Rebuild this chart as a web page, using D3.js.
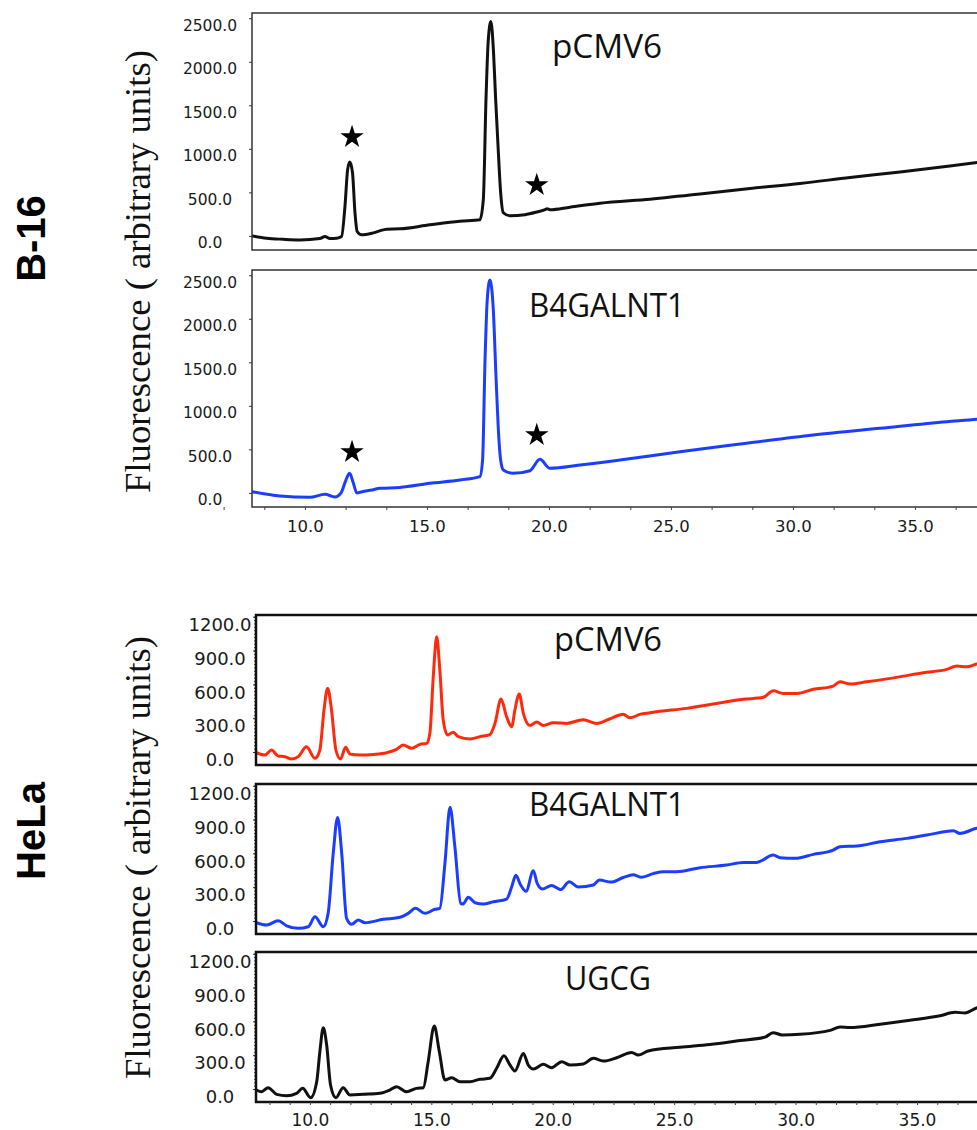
<!DOCTYPE html>
<html lang="en">
<head>
<meta charset="UTF-8">
<title>HPLC glycolipid profiles</title>
<script src="https://d3js.org/d3.v7.min.js"></script>
<style>
  body { margin: 0; background: #fff; }
  svg { display: block; background: #fff; }
</style>
</head>
<body>
<svg width="977" height="1130"></svg>
<script>
// [retention time (min), fluorescence]
const b16Control = [[7.83,0],[8.43,-27],[9.11,-39],[9.80,-46],[10.61,-31],[10.82,-8],[11.02,-31],[11.30,-27],[11.50,-8],[11.64,339],[11.75,764],[11.84,848],[11.95,723],[12.05,266],[12.14,50],[12.32,12],[12.80,35],[13.21,69],[13.35,77],[13.89,81],[15.12,127],[16.35,168],[17.17,185],[17.31,417],[17.42,1574],[17.51,2234],[17.62,2462],[17.73,2100],[17.81,1600],[17.92,995],[18.02,497],[18.13,266],[18.40,231],[19.02,243],[19.55,278],[19.84,301],[19.92,312],[20.04,301],[20.86,330],[22.09,376],[24.14,422],[26.19,480],[28.24,544],[30.29,602],[32.34,671],[34.39,735],[36.43,804],[37.87,856]];

const b16B4galnt1 = [[7.83,14],[8.98,-36],[10.20,-51],[10.82,-16],[11.23,-47],[11.48,0],[11.68,148],[11.83,225],[11.97,125],[12.13,0],[12.34,14],[12.75,33],[13.07,53],[13.89,62],[15.12,110],[16.35,148],[17.17,186],[17.28,378],[17.38,1526],[17.47,2215],[17.58,2444],[17.72,2100],[17.83,1334],[17.92,760],[18.02,378],[18.13,263],[18.52,225],[19.22,255],[19.63,386],[20.04,283],[21.27,320],[22.91,378],[25.37,473],[28.10,570],[30.83,665],[33.57,742],[36.30,817],[37.54,845],[37.87,855]];

const helaControl = [[7.80,-6],[8.15,-27],[8.42,18],[8.69,-35],[8.97,-41],[9.25,-62],[9.52,-41],[9.86,47],[10.21,-56],[10.41,18],[10.58,372],[10.73,565],[10.89,372],[11.07,18],[11.26,-62],[11.47,42],[11.65,-18],[12.06,-27],[12.61,-21],[13.16,-6],[13.57,24],[13.84,62],[14.19,33],[14.53,68],[14.81,77],[14.94,166],[15.08,668],[15.22,1022],[15.35,727],[15.49,284],[15.67,151],[15.90,175],[16.11,136],[16.59,115],[17.00,136],[17.41,155],[17.62,254],[17.87,470],[18.10,313],[18.31,224],[18.44,372],[18.62,514],[18.79,343],[19.06,235],[19.34,266],[19.61,236],[20.02,260],[20.57,254],[21.26,287],[21.81,254],[22.36,295],[22.90,336],[23.18,303],[23.59,334],[24.00,348],[24.28,357],[25.51,387],[26.61,426],[27.85,467],[28.67,485],[29.08,543],[29.49,520],[30.05,520],[30.73,556],[31.55,585],[31.83,623],[32.24,603],[32.93,623],[34.16,662],[35.26,703],[36.22,733],[36.64,762],[37.05,756],[37.46,780],[37.80,790]];

const helaB4galnt1 = [[7.80,-15],[8.22,-35],[8.69,3],[9.04,-42],[9.52,-65],[9.93,-51],[10.21,38],[10.55,-51],[10.75,68],[10.96,600],[11.14,919],[11.31,600],[11.51,24],[11.72,-29],[11.99,9],[12.27,-15],[13.02,15],[13.71,33],[14.05,68],[14.35,113],[14.74,68],[15.15,104],[15.35,113],[15.56,512],[15.77,1008],[15.97,659],[16.21,157],[16.31,151],[16.52,210],[16.80,162],[17.14,151],[17.55,171],[18.10,195],[18.31,304],[18.48,405],[18.68,319],[18.90,263],[19.20,446],[19.36,334],[19.57,285],[19.95,315],[20.33,278],[20.68,348],[21.05,301],[21.67,319],[21.92,363],[22.40,345],[22.90,386],[23.32,411],[23.63,388],[24.14,420],[24.55,437],[25.10,437],[26.06,473],[27.16,496],[27.85,520],[28.40,520],[29.08,585],[29.36,561],[29.98,556],[30.73,591],[31.55,629],[31.83,659],[32.52,665],[33.48,703],[34.58,733],[35.40,762],[36.50,800],[36.77,777],[37.46,822],[37.80,830]];

const helaUgcg = [[7.80,-9],[8.01,-24],[8.28,12],[8.63,-47],[9.04,-59],[9.45,-38],[9.70,6],[10.03,-77],[10.28,65],[10.41,331],[10.55,543],[10.69,390],[10.85,35],[11.07,-77],[11.37,12],[11.65,-53],[12.20,-47],[12.88,-38],[13.29,-9],[13.57,21],[13.98,-24],[14.39,6],[14.67,12],[14.87,242],[15.12,559],[15.33,331],[15.56,80],[15.84,100],[16.18,65],[16.59,65],[17.00,86],[17.41,95],[17.69,184],[17.99,295],[18.24,213],[18.44,160],[18.79,316],[18.99,213],[19.20,177],[19.61,219],[19.95,189],[20.37,242],[20.71,213],[21.26,222],[21.67,272],[22.08,248],[22.63,277],[23.25,325],[23.52,301],[23.93,337],[25.24,370],[26.47,395],[27.71,430],[28.74,460],[29.07,500],[29.44,480],[30.18,485],[31.42,520],[31.83,550],[32.24,545],[33.48,575],[34.71,610],[35.95,650],[36.57,680],[36.98,675],[37.47,720],[37.80,730]];

// starred peaks [time, fluorescence]
const b16ControlStars = [[11.93,1135],[19.50,584]];
const b16B4galnt1Stars = [[11.93,470],[19.50,665]];

const b16YTicks = [0, 500, 1000, 1500, 2000, 2500];
const helaYTicks = [0, 300, 600, 900, 1200];
const xTicks = [10, 15, 20, 25, 30, 35];

const svg = d3.select("svg");
const rightEdge = 985;

const groups = {
  b16: {
    x: d3.scaleLinear().domain([7.83, 37.87]).range([252, rightEdge]),
    yDomain: [-162, 2560], yTicks: b16YTicks, yMinor: 0,
    labelOffset: 42, labelShift: 7, labelSize: 15.5,
    xLabelSize: 16.5, xPad: 13, xMinorStep: 5 / 3,
    frame: "#333", frameWidth: 1.5
  },
  hela: {
    x: d3.scaleLinear().domain([7.78, 37.80]).range([256, rightEdge]),
    yDomain: [-115, 1215], yTicks: helaYTicks, yMinor: 30,
    labelOffset: 36, labelShift: 8, labelSize: 18,
    xLabelSize: 17, xPad: 11.5, xMinorStep: 5 / 6,
    frame: "#111", frameWidth: 2.5
  }
};

const panels = [
  {group: "b16", top: 13, bottom: 250, data: b16Control, color: "#111", title: "pCMV6", tx: 552, ty: 58, tw: 110, stars: b16ControlStars},
  {group: "b16", top: 270, bottom: 507, data: b16B4galnt1, color: "#1b3dff", title: "B4GALNT1", tx: 529, ty: 317, tw: 156, stars: b16B4galnt1Stars, xAxis: true},
  {group: "hela", top: 615, bottom: 765, data: helaControl, color: "#ff2a0c", title: "pCMV6", tx: 554, ty: 651, tw: 108},
  {group: "hela", top: 784, bottom: 934, data: helaB4galnt1, color: "#1b3dff", title: "B4GALNT1", tx: 529, ty: 816, tw: 156},
  {group: "hela", top: 952, bottom: 1102, data: helaUgcg, color: "#111", title: "UGCG", tx: 565, ty: 990, tw: 86, xAxis: true}
];

const tickFont = "'DejaVu Sans', sans-serif";

panels.forEach((p, i) => {
  const g = groups[p.group];
  const x = g.x;
  const left = x.range()[0];
  const y = d3.scaleLinear().domain(g.yDomain).range([p.bottom, p.top]);

  svg.append("clipPath").attr("id", "clip" + i)
    .append("rect")
    .attr("x", left).attr("y", p.top)
    .attr("width", rightEdge - left).attr("height", p.bottom - p.top);

  // small dotted ticks along the HeLa y axis
  if (g.yMinor) {
    const minor = svg.append("g")
      .attr("transform", `translate(${left},0)`)
      .call(d3.axisLeft(y).tickValues(d3.range(0, 1201, g.yMinor)).tickSize(2).tickFormat(""));
    minor.select(".domain").remove();
    minor.selectAll("line").attr("stroke", "#444");
  }

  const yAxis = svg.append("g")
    .attr("transform", `translate(${left},0)`)
    .call(d3.axisLeft(y).tickValues(g.yTicks).tickFormat(d3.format(".1f")).tickSize(3))
    .attr("font-family", tickFont)
    .attr("font-size", g.labelSize);
  yAxis.select(".domain").remove();
  yAxis.selectAll("line").attr("stroke", "#333");
  yAxis.selectAll("text")
    .attr("x", -g.labelOffset)
    .attr("y", g.labelShift)
    .attr("text-anchor", "middle")
    .attr("fill", "#1a1a1a");

  svg.append("path")
    .datum(p.data)
    .attr("clip-path", `url(#clip${i})`)
    .attr("d", d3.line().x(d => x(d[0])).y(d => y(d[1])).curve(d3.curveMonotoneX))
    .attr("fill", "none")
    .attr("stroke", p.color)
    .attr("stroke-width", 3)
    .attr("stroke-linejoin", "round");

  svg.append("rect")
    .attr("x", left).attr("y", p.top)
    .attr("width", rightEdge - left).attr("height", p.bottom - p.top)
    .attr("fill", "none")
    .attr("stroke", g.frame)
    .attr("stroke-width", g.frameWidth);

  svg.append("text")
    .attr("x", p.tx).attr("y", p.ty)
    .attr("textLength", p.tw)
    .attr("lengthAdjust", "spacingAndGlyphs")
    .style("font-family", "'Open Sans', sans-serif")
    .style("font-size", "32px")
    .attr("fill", "#111")
    .text(p.title);

  (p.stars || []).forEach(s => {
    svg.append("path")
      .attr("d", d3.symbol(d3.symbolStar, 170)())
      .attr("transform", `translate(${x(s[0])},${y(s[1])})`)
      .attr("fill", "#000");
  });

  if (p.xAxis) {
    const minorX = svg.append("g")
      .attr("transform", `translate(0,${p.bottom})`)
      .call(d3.axisBottom(x).tickValues(d3.range(10 - 2 * g.xMinorStep, 37.9, g.xMinorStep)).tickSize(3).tickFormat(""));
    minorX.select(".domain").remove();
    minorX.selectAll("line").attr("stroke", "#444");

    const xAxis = svg.append("g")
      .attr("transform", `translate(0,${p.bottom})`)
      .call(d3.axisBottom(x).tickValues(xTicks).tickFormat(d3.format(".1f")).tickSize(0).tickPadding(g.xPad))
      .attr("font-family", tickFont)
      .attr("font-size", g.xLabelSize);
    xAxis.select(".domain").remove();
    xAxis.selectAll("text").attr("fill", "#1a1a1a");
  }
});

// y-axis titles
[[150, 271.5], [150, 857.5]].forEach(c => {
  svg.append("text")
    .attr("transform", `translate(${c[0]},${c[1]}) rotate(-90)`)
    .attr("text-anchor", "middle")
    .attr("textLength", 443)
    .attr("lengthAdjust", "spacingAndGlyphs")
    .style("font-family", "'Liberation Serif', serif")
    .style("font-size", "36px")
    .attr("fill", "#111")
    .text("Fluorescence ( arbitrary units)");
});

// cell line labels
[["B-16", 238.5], ["HeLa", 831]].forEach(c => {
  svg.append("text")
    .attr("transform", `translate(45,${c[1]}) rotate(-90)`)
    .attr("text-anchor", "middle")
    .style("font-family", "'Liberation Sans', Arial, sans-serif")
    .style("font-weight", "bold")
    .style("font-size", "40px")
    .attr("fill", "#000")
    .text(c[0]);
});
</script>
</body>
</html>
